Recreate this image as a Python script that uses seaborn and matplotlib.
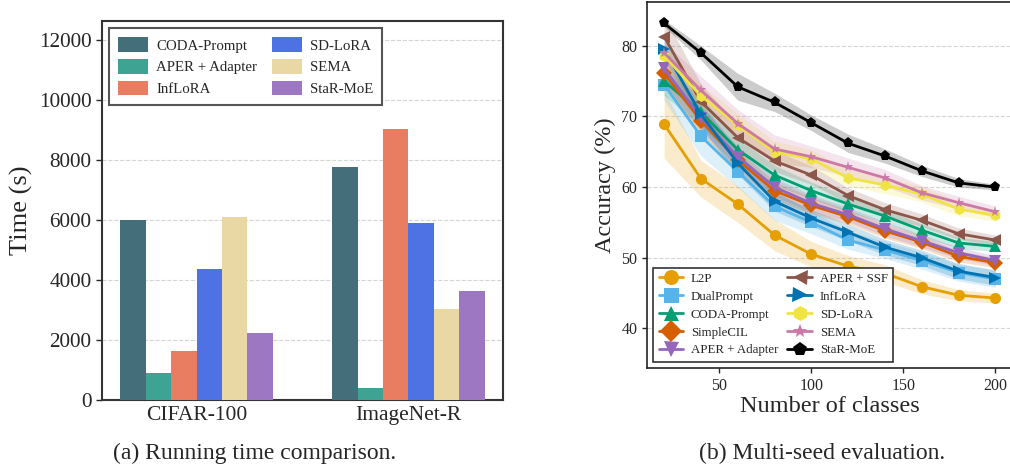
import numpy as np
import pandas as pd
import matplotlib
matplotlib.use("Agg")
import matplotlib.pyplot as plt
import seaborn as sns

# ---------------------------------------------------------------------------
# Data: (a) running time
datasets = ["CIFAR-100", "ImageNet-R"]
bar_methods = ["CODA-Prompt", "APER + Adapter", "InfLoRA", "SD-LoRA", "SEMA", "StaR-MoE"]
time_cifar = [6000, 890, 1630, 4370, 6100, 2230]
time_imr = [7770, 400, 9030, 5900, 3030, 3630]
bar_colors = ["#436e7a", "#3fa394", "#e97d62", "#4e71e4", "#e9d7a4", "#9e77c2"]

# Data: (b) multi-seed evaluation
classes = [20, 40, 60, 80, 100, 120, 140, 160, 180, 200]
line_methods = ["L2P", "DualPrompt", "CODA-Prompt", "SimpleCIL", "APER + Adapter",
                "APER + SSF", "InfLoRA", "SD-LoRA", "SEMA", "StaR-MoE"]
acc_l2p = [68.9, 61.2, 57.6, 53.2, 50.5, 48.8, 47.8, 45.9, 44.7, 44.3]
acc_dual = [74.5, 67.2, 62.2, 57.3, 55.0, 52.5, 51.1, 49.6, 47.9, 47.0]
acc_coda = [75.0, 70.6, 65.3, 61.7, 59.5, 57.6, 55.9, 53.9, 52.1, 51.6]
acc_simple = [76.1, 69.4, 63.8, 59.5, 57.4, 55.8, 53.8, 52.2, 50.2, 49.3]
acc_aper_ad = [76.8, 69.8, 64.3, 60.0, 57.7, 56.1, 54.1, 52.4, 50.7, 49.6]
acc_aper_ssf = [81.3, 72.1, 67.0, 63.7, 61.7, 58.8, 56.8, 55.3, 53.4, 52.5]
acc_inflora = [79.5, 70.3, 63.4, 58.0, 55.6, 53.6, 51.5, 50.0, 48.1, 47.2]
acc_sdlora = [78.6, 72.9, 68.8, 65.0, 64.0, 61.3, 60.3, 59.0, 56.9, 56.0]
acc_sema = [79.0, 73.7, 69.0, 65.4, 64.3, 62.8, 61.3, 59.2, 57.8, 56.5]
acc_star = [83.2, 79.0, 74.2, 72.0, 69.1, 66.2, 64.4, 62.3, 60.6, 60.0]

std_l2p = [4.8, 2.6, 2.6, 2.2, 1.8, 1.5, 1.2, 1.0, 0.8, 0.7]
std_dual = [2.2, 2.8, 2.2, 2.0, 1.6, 1.3, 1.2, 1.2, 1.2, 1.2]
std_coda = [2.0, 2.0, 1.6, 1.4, 1.2, 1.1, 1.0, 0.9, 0.8, 0.7]
std_simple = [2.0, 1.8, 1.5, 1.3, 1.2, 1.0, 1.0, 0.9, 0.8, 0.7]
std_aper_ad = [2.0, 1.8, 1.5, 1.3, 1.2, 1.0, 1.0, 0.9, 0.8, 0.7]
std_aper_ssf = [3.0, 2.5, 1.8, 1.5, 1.3, 1.1, 1.0, 0.9, 0.8, 0.7]
std_inflora = [1.5, 1.8, 1.6, 1.4, 1.2, 1.2, 1.1, 1.1, 1.1, 1.1]
std_sdlora = [1.5, 1.6, 1.6, 1.5, 1.3, 1.2, 1.2, 1.1, 1.0, 0.8]
std_sema = [1.5, 2.0, 2.0, 2.0, 1.5, 1.3, 1.2, 1.0, 0.9, 0.8]
std_star = [0.5, 1.0, 1.9, 1.3, 1.1, 1.3, 1.0, 0.8, 0.6, 0.4]

line_colors = ["#e69f00", "#56b4e9", "#009e73", "#d55e00", "#9467bd",
               "#8c564b", "#0072b2", "#f0e442", "#cc79a7", "#000000"]
line_markers = ["o", "s", "^", "D", "v", "<", ">", "h", "*", "p"]
# ---------------------------------------------------------------------------

sns.set_theme(style="ticks")
plt.rcParams["font.family"] = ["Liberation Serif", "DejaVu Serif"]

fig = plt.figure(figsize=(10.1, 4.68), dpi=100)
ax1 = fig.add_axes([0.101, 0.145, 0.397, 0.810])
ax2 = fig.add_axes([0.6406, 0.2137, 0.3614, 0.782])

# ---------------------------------------------------------------------------
# (a) bar chart
bars = pd.DataFrame({
    "dataset": np.repeat(datasets, len(bar_methods)),
    "method": bar_methods * len(datasets),
    "time": time_cifar + time_imr,
})
sns.barplot(data=bars, x="dataset", y="time", hue="method", hue_order=bar_methods,
            palette=bar_colors, width=0.72, saturation=1, linewidth=0, ax=ax1, zorder=3)
ax1.set_xlim(-0.446, 1.446)
ax1.set_ylim(0, 12630)
ax1.set_yticks(range(0, 12001, 2000))
ax1.yaxis.grid(True, linestyle="--", color="#d5d5d5", linewidth=0.8, zorder=0)
ax1.set_axisbelow(True)
ax1.set_xlabel("")
ax1.set_ylabel("Time (s)", fontsize=19)
ax1.tick_params(axis="y", labelsize=15.3, length=4, width=1)
ax1.tick_params(axis="x", labelsize=15.5, length=0, pad=4)
for s in ax1.spines.values():
    s.set_visible(True)
    s.set_linewidth(1.5)
    s.set_color("#333333")
sns.move_legend(ax1, "upper left", ncol=2, title=None, fontsize=10.7, frameon=True,
                fancybox=False, edgecolor="#555555", framealpha=1,
                handlelength=2.0, handleheight=1.1, handletextpad=0.55,
                columnspacing=1.0, borderpad=0.6, labelspacing=0.45)
ax1.get_legend().get_frame().set_linewidth(1.5)

# ---------------------------------------------------------------------------
# (b) line chart
acc_lists = [acc_l2p, acc_dual, acc_coda, acc_simple, acc_aper_ad,
             acc_aper_ssf, acc_inflora, acc_sdlora, acc_sema, acc_star]
std_lists = [std_l2p, std_dual, std_coda, std_simple, std_aper_ad,
             std_aper_ssf, std_inflora, std_sdlora, std_sema, std_star]
lines = pd.DataFrame({
    "classes": classes * len(line_methods),
    "method": np.repeat(line_methods, len(classes)),
    "acc": np.concatenate(acc_lists),
})
for acc, sd, c in zip(acc_lists, std_lists, line_colors):
    acc = np.array(acc)
    sd = np.array(sd)
    ax2.fill_between(classes, acc - sd, acc + sd, color=c, alpha=0.2,
                     linewidth=0, zorder=1)
sns.lineplot(data=lines, x="classes", y="acc", hue="method", style="method",
             hue_order=line_methods, style_order=line_methods,
             palette=dict(zip(line_methods, line_colors)),
             markers=dict(zip(line_methods, line_markers)), dashes=False,
             linewidth=2, markersize=8, markeredgewidth=0, ax=ax2, zorder=3)
ax2.set_xlim(10.7, 209)
ax2.set_ylim(34.4, 86.2)
ax2.set_xticks([50, 100, 150, 200])
ax2.set_yticks([40, 50, 60, 70, 80])
ax2.yaxis.grid(True, linestyle="--", color="#d5d5d5", linewidth=0.8)
ax2.set_axisbelow(True)
ax2.set_xlabel("Number of classes", fontsize=17.5, labelpad=2)
ax2.set_ylabel("Accuracy (%)", fontsize=17.5, labelpad=4)
ax2.tick_params(labelsize=11.5, length=3.5, width=1)
for s in ax2.spines.values():
    s.set_linewidth(1.2)
    s.set_color("#222222")
sns.move_legend(ax2, "lower left", ncol=2, title=None, fontsize=9.3, frameon=True,
                fancybox=False, edgecolor="#333333", framealpha=1,
                markerscale=1.35, handlelength=1.9, handletextpad=0.6,
                columnspacing=0.7, labelspacing=0.45, borderpad=0.4)
ax2.get_legend().get_frame().set_linewidth(1.2)

# captions
fig.text(0.252, 0.032, "(a) Running time comparison.", ha="center", va="center", fontsize=17)
fig.text(0.814, 0.032, "(b) Multi-seed evaluation.", ha="center", va="center", fontsize=17)

fig.savefig("out.png", dpi=100)
